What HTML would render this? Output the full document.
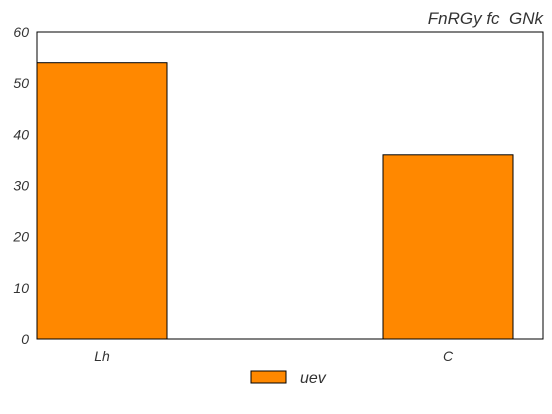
<!DOCTYPE html>
<html><head><meta charset="utf-8"><style>
body{margin:0;background:#fff;}
svg{display:block;font-family:"Liberation Sans",sans-serif;font-style:italic;}
</style></head><body>
<svg id="c" width="552" height="414"></svg>
<script>
const categories=["Lh","C"];
const values=[54,36];
const yTicks=[0,10,20,30,40,50,60];
const seriesName="uev";
const titleText="FnRGy fc\u00a0\u00a0GNk";
const svg=document.getElementById('c');
const NS="http://www.w3.org/2000/svg";
const L=37,R=543,T=32,B=339,yMax=60,bw=130;
const y=v=>B-(v/yMax)*(B-T);
const c0=L+bw/2, cN=R-30-bw/2;
const x=i=>categories.length>1?c0+i*(cN-c0)/(categories.length-1):(L+R)/2;
function mk(t,a,txt){const e=document.createElementNS(NS,t);for(const k in a)e.setAttribute(k,a[k]);if(txt!==undefined)e.textContent=txt;svg.appendChild(e);return e;}
values.forEach((v,i)=>{
 const r=mk('rect',{x:x(i)-bw/2,y:y(v),width:bw,height:B-y(v),fill:'#ff8800',stroke:'#000','stroke-width':1});
 
 
 const t=mk('text',{x:x(i),y:361,'font-size':14,fill:'#333','text-anchor':'middle'},categories[i]);
 
 
});
const f=mk('rect',{x:L,y:T,width:R-L,height:B-T,fill:'none',stroke:'#000','stroke-width':1});


yTicks.forEach(v=>{
 const t=mk('text',{x:29,y:y(v)+5,'font-size':14,fill:'#333','text-anchor':'end'},v);
 
 
});
const ti=mk('text',{x:543,y:24,'font-size':17,fill:'#333','text-anchor':'end'},titleText);


const lp=mk('rect',{x:251,y:371,width:35,height:12,fill:'#ff8800',stroke:'#000','stroke-width':1});


const lt=mk('text',{x:300,y:383,'font-size':16,fill:'#333'},seriesName);


</script>
</body></html>
